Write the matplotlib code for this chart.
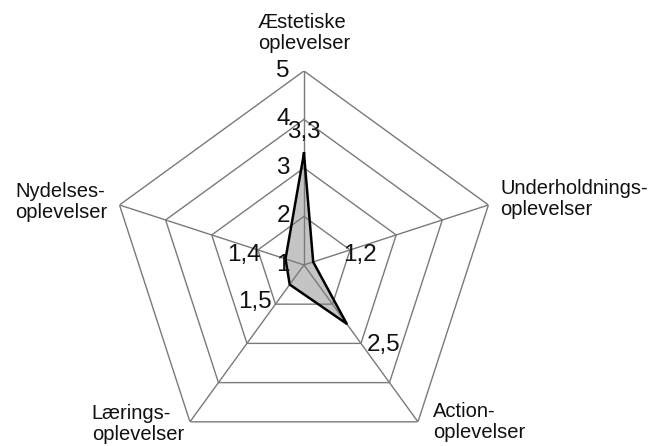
import numpy as np
import matplotlib
matplotlib.use("Agg")
import matplotlib.pyplot as plt

# kategorier (med uret fra toppen) og gennemsnit
categories = ["Æstetiske\noplevelser", "Underholdnings-\noplevelser", "Action-\noplevelser",
              "Lærings-\noplevelser", "Nydelses-\noplevelser"]
values = [3.3, 1.2, 2.5, 1.5, 1.4]
value_labels = ["3,3", "1,2", "2,5", "1,5", "1,4"]
levels = [1, 2, 3, 4, 5]
level_labels = ["1", "2", "3", "4", "5"]

# layout (pixel offsets)
cat_offsets = [(0, 38), (12, 6), (15, 0), (-6, -2), (-12, 3)]
cat_ha = ["center", "left", "left", "right", "right"]
val_offsets = [(0, 21), (47, 7), (37, -21), (-35, -17), (-42, 4)]

plt.rcParams['font.family'] = ['Liberation Sans', 'DejaVu Sans']

fig = plt.figure(figsize=(6.52, 4.46), dpi=100)
ax = fig.add_axes([0.1687, -0.029, 0.595, 0.870], projection='polar')
ax.set_theta_zero_location('N')
ax.set_theta_direction(-1)
ax.set_ylim(1, 5)
ax.grid(False)
ax.set_xticks([])
ax.set_yticks([])
ax.spines['polar'].set_visible(False)
ax.patch.set_visible(False)

n = len(categories)
angles = [2 * np.pi * i / n for i in range(n)]
closed = angles + angles[:1]

# data
ax.fill(angles, values, color='#c4c4c4', zorder=1, lw=0)

# pentagon grid og akser
gcol = '#7a7a7a'
for lvl in levels[1:]:
    ax.plot(closed, [lvl] * (n + 1), color=gcol, lw=1.0, zorder=2)
for a in angles:
    ax.plot([a, a], [levels[0], levels[-1]], color=gcol, lw=1.0, zorder=2)

ax.plot(closed, values + values[:1], color='black', lw=1.8, zorder=3)

# kategori-tekster
for a, lab, off, ha in zip(angles, categories, cat_offsets, cat_ha):
    ax.annotate(lab, xy=(a, levels[-1]), xytext=off, textcoords='offset pixels',
                ha=ha, va='center', multialignment='left', fontsize=14.5,
                linespacing=1.15, color='#111111')

# akse-tal
for lvl, lab in zip(levels, level_labels):
    ax.annotate(lab, xy=(0, lvl), xytext=(-14, 0), textcoords='offset pixels',
                ha='right', va='center', fontsize=17.5, color='#111111', zorder=5)

# data-tal
for a, v, lab, off in zip(angles, values, value_labels, val_offsets):
    ax.annotate(lab, xy=(a, v), xytext=off, textcoords='offset pixels',
                ha='center', va='center', fontsize=17.5, color='#111111', zorder=5)

fig.savefig("out.png", dpi=100)
